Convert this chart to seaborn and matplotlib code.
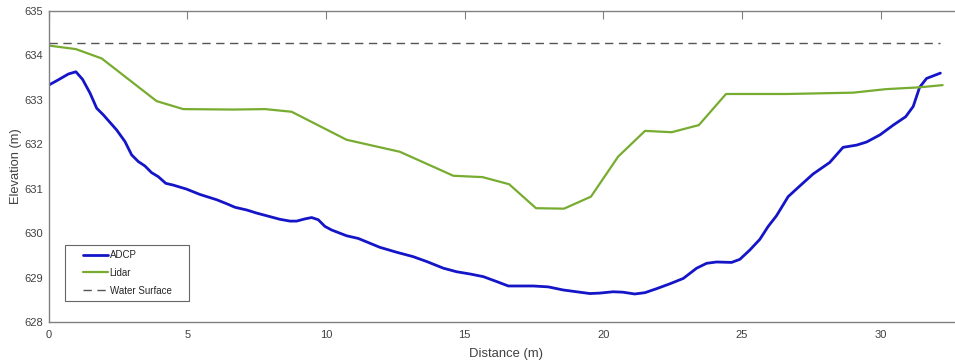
import matplotlib
matplotlib.use("Agg")
import matplotlib.pyplot as plt
from matplotlib.lines import Line2D
from matplotlib.legend_handler import HandlerLine2D
import seaborn as sns
import pandas as pd

# Cross-section survey: ADCP bed profile, Lidar ground profile, water surface
adcp_dist = [0.0, 0.35, 0.71, 0.98, 1.22, 1.49, 1.73, 1.97, 2.45, 2.75, 2.99, 3.23, 3.47,
             3.71, 3.95, 4.22, 4.49, 4.97, 5.45, 6.06, 6.42, 6.72, 7.14, 7.5, 7.86, 8.34,
             8.70, 8.94, 9.24, 9.48, 9.72, 9.96, 10.2, 10.74, 11.16, 11.94, 12.54, 13.14,
             13.63, 14.23, 14.71, 15.19, 15.67, 16.15, 16.57, 17.47, 18.01, 18.55, 19.03,
             19.51, 19.87, 20.35, 20.71, 21.13, 21.5, 21.92, 22.4, 22.88, 23.36, 23.72,
             24.08, 24.62, 24.92, 25.28, 25.64, 25.94, 26.24, 26.66, 27.08, 27.56, 28.16,
             28.64, 29.13, 29.49, 29.97, 30.45, 30.9, 31.17, 31.4, 31.65, 32.15]
adcp_elev = [633.33, 633.45, 633.58, 633.63, 633.46, 633.15, 632.81, 632.66, 632.32, 632.06,
             631.76, 631.61, 631.51, 631.36, 631.27, 631.12, 631.08, 630.99, 630.87, 630.75,
             630.66, 630.58, 630.52, 630.45, 630.39, 630.31, 630.27, 630.27, 630.32, 630.35,
             630.30, 630.15, 630.07, 629.94, 629.88, 629.68, 629.57, 629.47, 629.36, 629.21,
             629.13, 629.08, 629.02, 628.91, 628.81, 628.81, 628.79, 628.72, 628.68, 628.64,
             628.65, 628.68, 628.67, 628.63, 628.66, 628.75, 628.86, 628.98, 629.21, 629.32,
             629.35, 629.34, 629.41, 629.62, 629.86, 630.15, 630.39, 630.82, 631.06, 631.33,
             631.59, 631.93, 631.98, 632.05, 632.21, 632.43, 632.62, 632.85, 633.28, 633.48,
             633.60]

lidar_dist = [0.0, 0.98, 1.91, 3.89, 4.85, 6.65, 7.8, 8.76, 10.74, 12.66, 14.59, 15.64,
              16.6, 17.57, 18.58, 19.55, 20.53, 21.5, 22.46, 23.44, 24.42, 26.6, 29.0,
              30.2, 31.4, 32.23]
lidar_elev = [634.22, 634.14, 633.93, 632.97, 632.79, 632.78, 632.79, 632.73, 632.10,
              631.83, 631.29, 631.26, 631.10, 630.56, 630.55, 630.82, 631.72, 632.30,
              632.27, 632.43, 633.13, 633.13, 633.16, 633.24, 633.28, 633.33]

water_dist = [0.0, 32.15]
water_elev = [634.28, 634.28]

x_ticks = [0, 5, 10, 15, 20, 25, 30]
y_ticks = [628, 629, 630, 631, 632, 633, 634, 635]

sns.set_theme(style="white")
plt.rcParams["font.family"] = ["Liberation Sans", "DejaVu Sans"]

fig = plt.figure(figsize=(9.55, 3.63), dpi=100)
ax = fig.add_axes([0.051, 0.113, 0.9584, 0.857])

adcp = pd.DataFrame({"Distance": adcp_dist, "Elevation": adcp_elev})
lidar = pd.DataFrame({"Distance": lidar_dist, "Elevation": lidar_elev})
water = pd.DataFrame({"Distance": water_dist, "Elevation": water_elev})

sns.lineplot(data=adcp, x="Distance", y="Elevation", ax=ax, color="#1515c8",
             linewidth=2.0, label="ADCP", sort=False)
sns.lineplot(data=lidar, x="Distance", y="Elevation", ax=ax, color="#77ac30",
             linewidth=1.6, label="Lidar", sort=False)
sns.lineplot(data=water, x="Distance", y="Elevation", ax=ax, color="#555555",
             linewidth=1.0, linestyle=(0, (6, 4)), label="Water Surface")

ax.set_xlim(0, 33)
ax.set_ylim(628, 635)
ax.set_xticks(x_ticks)
ax.set_yticks(y_ticks)
ax.set_xlabel("Distance (m)", fontsize=9.4, color="#404040", labelpad=5.5)
ax.set_ylabel("Elevation (m)", fontsize=9.3, color="#404040")
ax.yaxis.set_label_coords(-0.0292, 0.5)

for side in ["left", "right", "top", "bottom"]:
    ax.spines[side].set_visible(True)
    ax.spines[side].set_color("#808080")
    ax.spines[side].set_linewidth(1.0)
ax.tick_params(axis="both", direction="in", length=6, width=0.8, color="#808080",
               labelsize=8, labelcolor="#404040", top=True, right=True, pad=4)
ax.tick_params(axis="x", pad=6)

# Legend box with inset handles, stretched to a fixed width
leg = ax.legend(loc="lower left", bbox_to_anchor=(0.0178, 0.0675, 0.1355, 0.17),
                mode="expand", borderaxespad=0, fontsize=7, frameon=True,
                fancybox=False, handlelength=3.9, handletextpad=0.15,
                borderpad=0.55, labelspacing=0.8,
                handler_map={Line2D: HandlerLine2D(xpad=1.27)})
leg.get_frame().set_edgecolor("#404040")
leg.get_frame().set_linewidth(0.8)

fig.savefig("out.png", dpi=100)
